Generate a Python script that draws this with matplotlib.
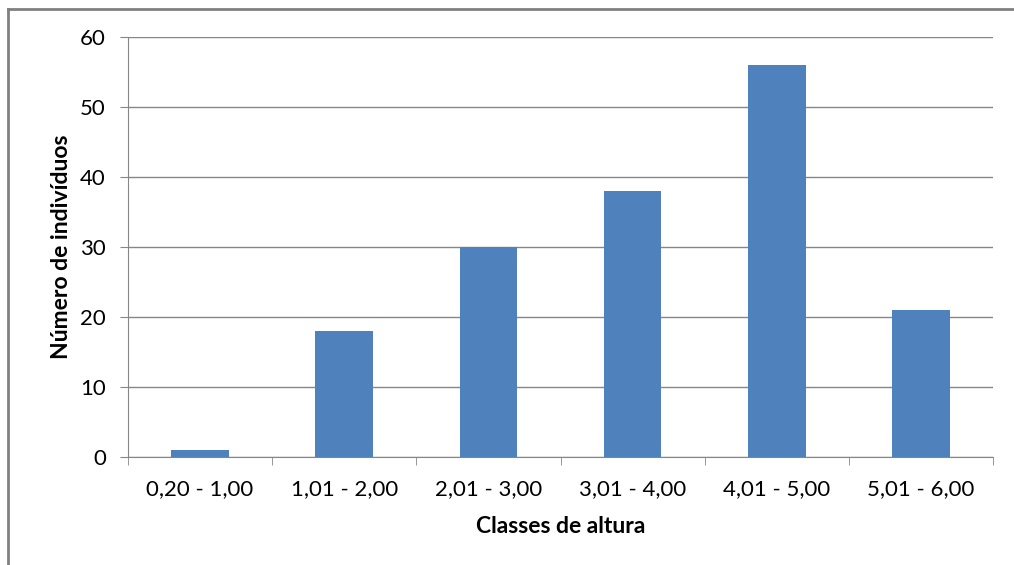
import matplotlib.pyplot as plt
from matplotlib.lines import Line2D
import numpy as np

categorias = ["0,20 - 1,00", "1,01 - 2,00", "2,01 - 3,00",
              "3,01 - 4,00", "4,01 - 5,00", "5,01 - 6,00"]
individuos = [1, 18, 30, 38, 56, 21]


def main():
    plt.rcParams['font.family'] = ['Lato', 'DejaVu Sans']
    fig = plt.figure(figsize=(10.14, 5.65), dpi=100)
    ax = fig.add_axes([128 / 1014, 108 / 565, 865 / 1014, 420 / 565])

    x = np.arange(len(categorias))
    ax.bar(x, individuos, width=0.4, color="#4F81BD", zorder=3)

    ax.set_xlim(-0.5, len(categorias) - 0.5)
    ax.set_ylim(0, 60)
    ax.set_yticks(range(0, 61, 10))
    ax.set_xticks(x)
    ax.set_xticklabels(categorias)
    ax.set_xticks(np.arange(-0.5, len(categorias), 1), minor=True)

    ax.grid(axis="y", color="#868686", linewidth=1, zorder=0)
    for s in ["top", "right"]:
        ax.spines[s].set_visible(False)
    for s in ["left", "bottom"]:
        ax.spines[s].set_color("#868686")

    ax.tick_params(axis="y", length=6, color="#868686", labelsize=16, pad=10)
    ax.tick_params(axis="x", which="major", length=0, labelsize=16, pad=16)
    ax.tick_params(axis="x", which="minor", length=6, color="#868686")

    ax.set_xlabel("Classes de altura", fontsize=16.5, fontweight="bold", labelpad=12)
    ax.set_ylabel("Número de indivíduos", fontsize=16.5, fontweight="bold", labelpad=6)

    # moldura do gráfico (só topo e esquerda visíveis)
    fig.add_artist(Line2D([8 / 1014, 8 / 1014], [0, 1 - 9 / 565],
                          transform=fig.transFigure, color="#808080", linewidth=2))
    fig.add_artist(Line2D([8 / 1014, 1], [1 - 9 / 565, 1 - 9 / 565],
                          transform=fig.transFigure, color="#808080", linewidth=2))

    fig.savefig("out.png")


if __name__ == "__main__":
    main()
